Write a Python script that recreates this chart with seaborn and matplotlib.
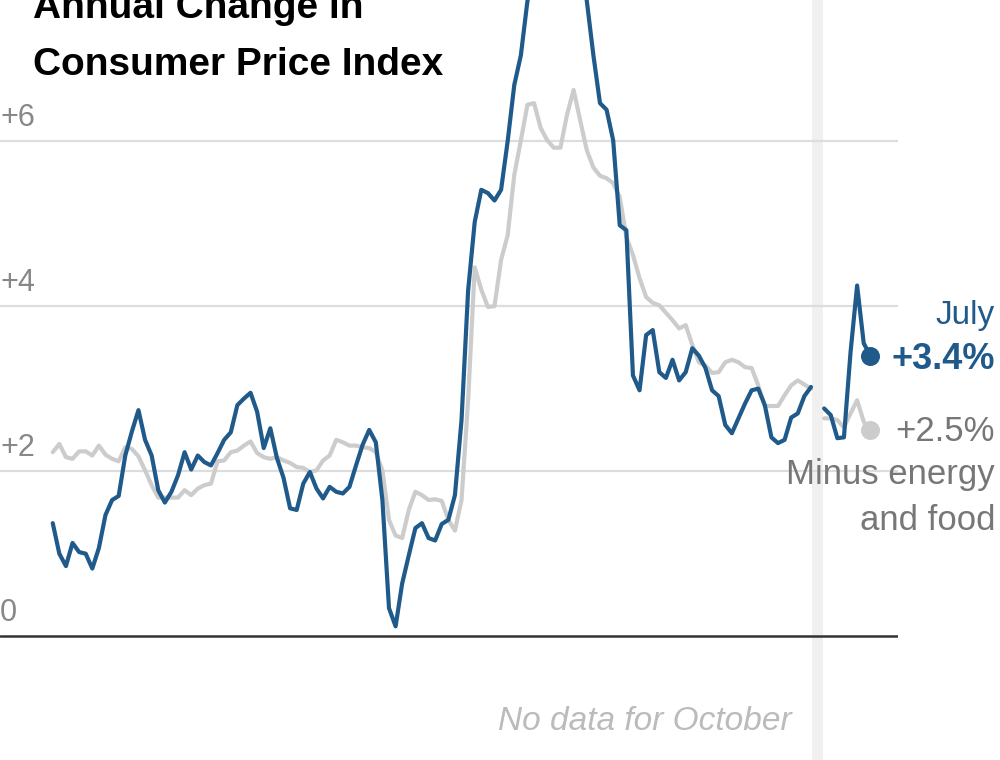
import numpy as np
import pandas as pd
import seaborn as sns
import matplotlib
matplotlib.use("Agg")
import matplotlib.pyplot as plt

# monthly readings, index 0 = first month shown; nan = missing October
cpi_all = [1.37, 1.0, 0.85, 1.13, 1.02, 1.0, 0.82, 1.07, 1.47, 1.65,
           1.70, 2.19, 2.48, 2.74, 2.38, 2.19, 1.77, 1.62, 1.75, 1.95,
           2.23, 2.02, 2.19, 2.11, 2.07, 2.22, 2.38, 2.47, 2.80, 2.88,
           2.95, 2.72, 2.28, 2.52, 2.16, 1.92, 1.55, 1.53, 1.85, 1.99,
           1.79, 1.67, 1.81, 1.75, 1.73, 1.81, 2.07, 2.32, 2.50, 2.35,
           1.65, 0.34, 0.12, 0.64, 0.98, 1.31, 1.37, 1.19, 1.16, 1.36,
           1.41, 1.71, 2.62,
           4.19, 5.02, 5.41, 5.37, 5.28, 5.41, 6.0, 6.68, 7.04, 7.7,
           8.0, 8.5, 8.3, 8.6, 9.1, 8.5, 8.3, 8.2, 7.7, 7.04,
           6.46, 6.38, 6.01, 4.98, 4.92, 3.16, 2.98, 3.65, 3.71, 3.2,
           3.13, 3.35, 3.1, 3.2, 3.49, 3.4, 3.25, 2.98, 2.91, 2.56,
           2.46, 2.64, 2.82, 2.98, 3.0, 2.8, 2.41, 2.34, 2.38, 2.65,
           2.7, 2.91, 3.02, np.nan,
           2.76, 2.68, 2.4, 2.41, 3.44, 4.25, 3.55, 3.4]
cpi_core = [2.23, 2.33, 2.17, 2.15, 2.24, 2.24, 2.19, 2.31, 2.2, 2.15,
            2.12, 2.29, 2.27, 2.18, 2.01, 1.83, 1.68, 1.68, 1.68, 1.68,
            1.77, 1.71, 1.79, 1.83, 1.85, 2.12, 2.13, 2.23, 2.25, 2.31,
            2.36, 2.22, 2.17, 2.15, 2.17, 2.13, 2.10, 2.05, 2.04, 1.99,
            2.01, 2.13, 2.19, 2.38, 2.35, 2.31, 2.31, 2.29, 2.28, 2.23,
            2.01, 1.41, 1.22, 1.19, 1.53, 1.75, 1.71, 1.65, 1.66, 1.64,
            1.41, 1.28, 1.65,
            2.86, 4.47, 4.2, 3.99, 4.0, 4.56, 4.86, 5.59, 6.01, 6.44,
            6.46, 6.16, 6.01, 5.92, 5.92, 6.32, 6.62, 6.25, 5.89, 5.68,
            5.58, 5.55, 5.49, 5.32, 4.84, 4.62, 4.34, 4.11, 4.04, 4.01,
            3.92, 3.83, 3.73, 3.77, 3.53, 3.32, 3.28, 3.19, 3.2, 3.32,
            3.35, 3.32, 3.26, 3.25, 3.04, 2.79, 2.79, 2.79, 2.92, 3.04,
            3.1, 3.05, 3.0, np.nan,
            2.64, 2.64, 2.62, 2.53, 2.7, 2.86, 2.6, 2.5]
y_ticks = [0, 2, 4, 6]
y_tick_labels = ["0", "+2", "+4", "+6"]

BLUE = "#1f5a8b"
GREY = "#cccccc"

rows = []
for name, vals in [("core", cpi_core), ("all", cpi_all)]:
    seg = 0
    for i, v in enumerate(vals):
        if np.isnan(v):
            seg += 1
            continue
        rows.append({"month": i, "value": v, "series": name, "seg": seg})
df = pd.DataFrame(rows)
gap_idx = int(np.where(np.isnan(cpi_all))[0][0])
last = len(cpi_all) - 1

sns.set_style("white")
plt.rcParams['font.family'] = ['Liberation Sans', 'DejaVu Sans']
fig = plt.figure(figsize=(10, 7.6), dpi=100)
ax = fig.add_axes([0, 0, 0.898, 1])
ax.set_xlim(-8.0, 128.2)
ax.set_ylim(-1.5, 7.71)
for s in ax.spines.values():
    s.set_visible(False)
ax.set_xticks([])
ax.set_yticks([])

ax.axvspan(gap_idx - 0.9, gap_idx + 0.9, color="#f0f0f0", zorder=0, lw=0)
for t in y_ticks[1:]:
    ax.axhline(t, color="#dddddd", lw=1.6, zorder=1)
ax.axhline(0, color="#333333", lw=1.8, zorder=1)
for t, lab in zip(y_ticks, y_tick_labels):
    ax.text(-8.0, t + 0.1, lab, fontsize=22, color="#888888", va="bottom", ha="left")

sns.lineplot(data=df, x="month", y="value", hue="series", units="seg",
             estimator=None, palette={"core": GREY, "all": BLUE},
             hue_order=["core", "all"], lw=3.0, legend=False, ax=ax, zorder=3)
ax.set_xlabel("")
ax.set_ylabel("")
ax.scatter([last], [cpi_core[-1]], s=160, color=GREY, zorder=4, clip_on=False)
ax.scatter([last], [cpi_all[-1]], s=160, color=BLUE, zorder=5, clip_on=False)

fig.text(0.033, 0.99, "Annual Change in", fontsize=28, fontweight="bold",
         va="center", ha="left", color="black")
fig.text(0.033, 0.914, "Consumer Price Index", fontsize=28, fontweight="bold",
         va="center", ha="left", color="black")
fig.text(0.995, 0.585, "July", fontsize=24, color=BLUE, ha="right", va="center")
fig.text(0.995, 0.527, "+3.4%", fontsize=26, color=BLUE, fontweight="bold",
         ha="right", va="center")
fig.text(0.995, 0.432, "+2.5%", fontsize=25, color="#777777", ha="right", va="center")
fig.text(0.995, 0.376, "Minus energy", fontsize=25, color="#777777", ha="right", va="center")
fig.text(0.995, 0.315, "and food", fontsize=25, color="#777777", ha="right", va="center")
fig.text(0.792, 0.05, "No data for October", fontsize=24, color="#bbbbbb",
         style="italic", ha="right", va="center")

fig.savefig("out.png", dpi=100)
